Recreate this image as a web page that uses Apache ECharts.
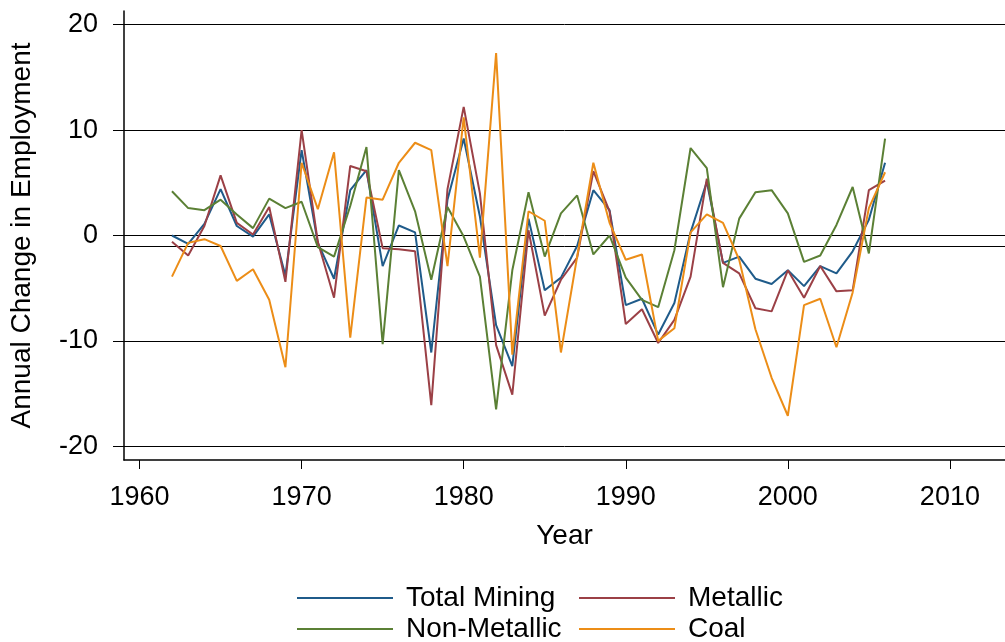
<!DOCTYPE html>
<html>
<head>
<meta charset="utf-8">
<script src="https://cdn.jsdelivr.net/npm/echarts@6/dist/echarts.min.js"></script>
<style>
  html, body { margin: 0; padding: 0; background: #fff; }
  #chart { width: 1005px; height: 642px; }
</style>
</head>
<body>
<div id="chart"></div>
<script>
const years = [1962, 1963, 1964, 1965, 1966, 1967, 1968, 1969, 1970, 1971,
  1972, 1973, 1974, 1975, 1976, 1977, 1978, 1979, 1980, 1981,
  1982, 1983, 1984, 1985, 1986, 1987, 1988, 1989, 1990, 1991,
  1992, 1993, 1994, 1995, 1996, 1997, 1998, 1999, 2000, 2001,
  2002, 2003, 2004, 2005, 2006];

const totalMining = [0.0, -0.8, 1.1, 4.4, 0.9, -0.1, 2.0, -3.8, 8.1, -0.7,
  -4.1, 4.3, 6.2, -2.9, 0.95, 0.3, -11.1, 3.4, 9.2, 1.8,
  -8.5, -12.4, 1.6, -5.2, -4.0, -1.0, 4.3, 2.4, -6.6, -6.0,
  -9.4, -6.4, 0.3, 5.1, -2.6, -2.0, -4.1, -4.6, -3.3, -4.8,
  -2.9, -3.6, -1.5, 1.5, 6.9];

const metallic = [-0.6, -1.9, 0.9, 5.7, 1.2, 0.1, 2.7, -4.4, 10.0, -0.6,
  -5.9, 6.6, 6.1, -1.2, -1.3, -1.5, -16.1, 4.4, 12.2, 4.0,
  -10.4, -15.1, 0.5, -7.6, -4.2, -2.1, 6.1, 2.3, -8.4, -7.0,
  -10.2, -8.0, -3.9, 5.4, -2.6, -3.6, -6.9, -7.2, -3.3, -5.9,
  -2.9, -5.3, -5.2, 4.3, 5.2];

const nonMetallic = [4.2, 2.6, 2.4, 3.4, 2.0, 0.7, 3.5, 2.6, 3.2, -1.1,
  -2.0, 2.8, 8.4, -10.3, 6.2, 2.3, -4.2, 2.7, -0.1, -3.9,
  -16.5, -3.3, 4.1, -2.0, 2.1, 3.8, -1.8, 0.0, -4.0, -6.1,
  -6.8, -1.4, 8.3, 6.4, -4.9, 1.6, 4.1, 4.3, 2.1, -2.5,
  -1.9, 1.0, 4.6, -1.7, 9.2];

const coal = [-3.9, -0.7, -0.35, -1.0, -4.3, -3.2, -6.1, -12.5, 6.9, 2.5,
  7.9, -9.7, 3.6, 3.4, 6.9, 8.8, 8.1, -2.9, 11.2, -2.1,
  17.3, -11.3, 2.3, 1.4, -11.1, -2.0, 6.9, 1.2, -2.3, -1.8,
  -10.0, -8.8, 0.3, 2.0, 1.2, -2.3, -8.9, -13.5, -17.1, -6.6,
  -6.0, -10.6, -5.4, 2.6, 6.0];

const xTicks = [1960, 1970, 1980, 1990, 2000, 2010];
const yTicks = [-20, -10, 0, 10, 20];
const refLines = [-20, -10, 0, 10, 20, -1];

const FONT = 'Liberation Sans';

const pairs = (vals) => years.map((y, i) => [y, vals[i]]);

const chart = echarts.init(document.getElementById('chart'));

const seriesDefs = [
  { name: 'Total Mining', data: totalMining, color: '#1f5b8a' },
  { name: 'Metallic', data: metallic, color: '#9b4046' },
  { name: 'Non-Metallic', data: nonMetallic, color: '#5b8035' },
  { name: 'Coal', data: coal, color: '#ec8d17' }
];

const series = seriesDefs.map((s, i) => ({
  name: s.name,
  type: 'line',
  data: pairs(s.data),
  symbol: 'none',
  z: 3,
  lineStyle: { color: s.color, width: 2 },
  itemStyle: { color: s.color },
  markLine: i === 0 ? {
    silent: true,
    symbol: 'none',
    label: { show: false },
    z: 1,
    lineStyle: { color: '#000', width: 1, type: 'solid' },
    data: refLines.map(v => ({ yAxis: v }))
  } : undefined
}));

const legendPos = [
  { left: 297, top: 584 },
  { left: 579, top: 584 },
  { left: 297, top: 615 },
  { left: 579, top: 615 }
];

const option = {
  animation: false,
  backgroundColor: '#fff',
  textStyle: { fontFamily: FONT },
  grid: { left: 123, right: 0, top: 11, bottom: 182 },
  legend: seriesDefs.map((s, i) => ({
    data: [s.name],
    left: legendPos[i].left,
    top: legendPos[i].top,
    icon: 'rect',
    itemWidth: 96,
    itemHeight: 2,
    padding: 0,
    textStyle: { fontFamily: FONT, fontSize: 28, color: '#000', padding: [0, 0, 0, 8] }
  })),
  xAxis: {
    type: 'value',
    min: 1959.04,
    max: 2013.4,
    name: 'Year',
    nameLocation: 'middle',
    nameGap: 62,
    nameTextStyle: { fontFamily: FONT, fontSize: 28, color: '#000' },
    axisLine: { onZero: false, lineStyle: { color: '#000', width: 1.5 } },
    axisTick: { show: true, length: 9, customValues: xTicks, lineStyle: { color: '#000' } },
    axisLabel: {
      customValues: xTicks, margin: 24, fontFamily: FONT, fontSize: 27, color: '#000',
      formatter: v => String(v)
    },
    splitLine: { show: false }
  },
  yAxis: {
    type: 'value',
    min: -21.3,
    max: 21.3,
    name: 'Annual Change in Employment',
    nameLocation: 'middle',
    nameGap: 88,
    nameTextStyle: { fontFamily: FONT, fontSize: 28, color: '#000' },
    axisLine: { show: true, onZero: false, lineStyle: { color: '#000', width: 1.5 } },
    axisTick: { show: true, length: 11, customValues: yTicks, lineStyle: { color: '#000' } },
    axisLabel: { customValues: yTicks, margin: 26, fontFamily: FONT, fontSize: 27, color: '#000' },
    splitLine: { show: false }
  },
  series: series
};

chart.setOption(option);
</script>
</body>
</html>
